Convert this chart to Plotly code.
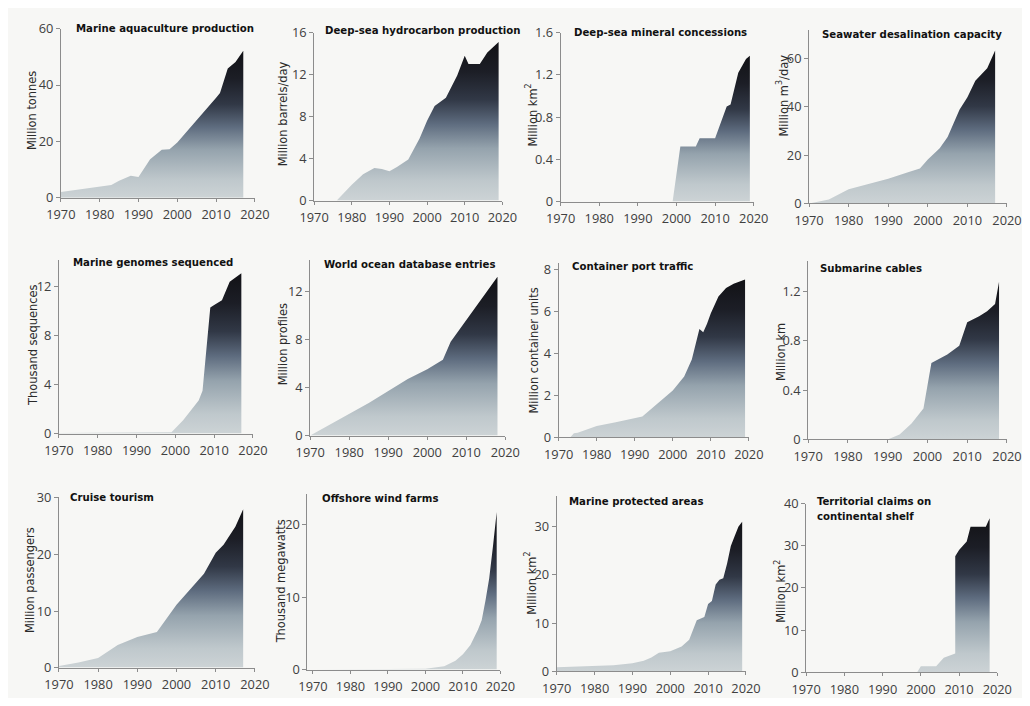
import plotly.graph_objects as go

# ---------------- data ----------------
year_ticks = [1970, 1980, 1990, 2000, 2010, 2020]

aqua_years = [1970, 1975, 1980, 1983, 1985, 1988, 1990, 1993, 1996, 1998, 2000, 2005, 2010, 2011, 2013, 2015, 2017]
aqua_vals = [2.0, 3.0, 3.8, 4.5, 6.0, 7.8, 7.3, 13.6, 17.0, 17.2, 19.6, 27.4, 35.5, 37.2, 45.9, 48.2, 52.2]

hydro_years = [1970, 1976, 1980, 1983, 1986, 1988, 1990, 1992, 1995, 1998, 2000, 2002, 2005, 2008, 2010, 2011, 2014, 2016, 2019]
hydro_vals = [0, 0, 1.5, 2.5, 3.1, 3.0, 2.8, 3.2, 3.9, 5.9, 7.6, 9.0, 9.8, 11.9, 13.8, 13.0, 13.0, 14.1, 15.1]

mineral_years = [1999, 2001, 2005, 2006, 2010, 2012, 2013, 2014, 2016, 2018, 2019]
mineral_vals = [0, 0.52, 0.52, 0.6, 0.6, 0.8, 0.9, 0.92, 1.22, 1.35, 1.38]

desal_years = [1970, 1975, 1980, 1985, 1990, 1995, 1998, 2000, 2003, 2005, 2008, 2010, 2012, 2015, 2017]
desal_vals = [0, 1.6, 5.9, 8.2, 10.2, 12.9, 14.5, 18.2, 22.9, 27.5, 38.8, 44.0, 50.8, 56.0, 63.4]

genome_years = [1970, 1999, 2002, 2004, 2006, 2007, 2008, 2009, 2010, 2012, 2014, 2017]
genome_vals = [0.05, 0.1, 1.1, 1.9, 2.7, 3.5, 7.2, 10.3, 10.5, 10.9, 12.4, 13.1]

wod_years = [1970, 1975, 1980, 1985, 1990, 1995, 2000, 2004, 2006, 2010, 2014, 2018]
wod_vals = [0, 0.9, 1.8, 2.7, 3.7, 4.7, 5.5, 6.3, 7.8, 9.6, 11.4, 13.2]

port_years = [1973, 1974, 1975, 1980, 1985, 1990, 1992, 1995, 2000, 2003, 2005, 2007, 2008, 2009, 2010, 2012, 2014, 2016, 2019]
port_vals = [0, 0.2, 0.23, 0.54, 0.72, 0.92, 1.0, 1.46, 2.23, 2.9, 3.7, 5.15, 5.0, 5.4, 5.9, 6.7, 7.1, 7.3, 7.5]

cable_years = [1990, 1993, 1996, 1999, 2001, 2005, 2008, 2010, 2013, 2015, 2017, 2018]
cable_vals = [0, 0.04, 0.13, 0.25, 0.62, 0.69, 0.76, 0.95, 1.0, 1.04, 1.1, 1.28]

cruise_years = [1970, 1975, 1980, 1985, 1990, 1993, 1995, 2000, 2004, 2007, 2010, 2012, 2015, 2017]
cruise_vals = [0.3, 0.9, 1.7, 4.0, 5.4, 6.0, 6.3, 11.1, 14.3, 16.6, 20.3, 21.7, 24.9, 28.0]

wind_years = [1970, 1995, 2000, 2005, 2008, 2010, 2012, 2014, 2015, 2016, 2017, 2018, 2019]
wind_vals = [0, 0.02, 0.1, 0.45, 1.2, 2.1, 3.4, 5.5, 6.8, 9.5, 12.6, 17.0, 21.8]

mpa_years = [1970, 1980, 1985, 1990, 1993, 1995, 1997, 2000, 2003, 2005, 2006, 2007, 2009, 2010, 2011, 2012, 2013, 2014, 2015, 2016, 2017, 2018, 2019]
mpa_vals = [0.9, 1.1, 1.3, 1.7, 2.2, 2.9, 3.9, 4.2, 5.2, 6.6, 8.6, 10.6, 11.3, 14.0, 14.6, 18.0, 19.0, 19.3, 22.3, 26.0, 28.0, 30.0, 31.0]

shelf_years = [1999, 2000, 2004, 2006, 2009, 2009, 2010, 2012, 2013, 2017, 2018]
shelf_vals = [0, 1.5, 1.5, 3.5, 4.5, 27.5, 29.0, 31.0, 34.5, 34.5, 36.5]

titles = ["Marine aquaculture production", "Deep-sea hydrocarbon production",
          "Deep-sea mineral concessions", "Seawater desalination capacity",
          "Marine genomes sequenced", "World ocean database entries",
          "Container port traffic", "Submarine cables",
          "Cruise tourism", "Offshore wind farms",
          "Marine protected areas", "Territorial claims on<br>continental shelf"]
units = ["Million tonnes", "Million barrels/day", "Million km<sup>2</sup>", "Million m<sup>3</sup>/day",
         "Thousand sequences", "Million profiles", "Million container units", "Million km",
         "Million passengers", "Thousand megawatts", "Million km<sup>2</sup>", "Million km<sup>2</sup>"]
y_ticks = [[0, 20, 40, 60], [0, 4, 8, 12, 16], [0, 0.4, 0.8, 1.2, 1.6], [0, 20, 40, 60],
           [0, 4, 8, 12], [0, 4, 8, 12], [0, 2, 4, 6, 8], [0, 0.4, 0.8, 1.2],
           [0, 10, 20, 30], [0, 10, 20], [0, 10, 20, 30], [0, 10, 20, 30, 40]]
series = [(aqua_years, aqua_vals), (hydro_years, hydro_vals), (mineral_years, mineral_vals),
          (desal_years, desal_vals), (genome_years, genome_vals), (wod_years, wod_vals),
          (port_years, port_vals), (cable_years, cable_vals), (cruise_years, cruise_vals),
          (wind_years, wind_vals), (mpa_years, mpa_vals), (shelf_years, shelf_vals)]

# ---------------- layout geometry (page pixels) ----------------
# The page body keeps its default 8px margin, so the figure is sized to fill
# the 1030x706 window and page pixels are converted with that offset.
PAGE_W, PAGE_H, OFF = 1030, 706, 8
W, H = PAGE_W - 2 * OFF, PAGE_H - 2 * OFF


def px(x):
    return min(max((x - OFF) / W, 0.0), 1.0)


def py(y):
    return min(max(1 - (y - OFF) / H, 0.0), 1.0)


# left, right, bottom(zero), top, ymax, xmin
frames = [(47, 247, 193, 19, 60, 1970), (308, 502, 196, 23, 16, 1970), (562, 761, 197, 23, 1.6, 1970),
          (818, 1022, 199, 20, 72, 1970), (45, 245, 436, 257, 14.2, 1970), (304, 505, 438, 257, 14.6, 1970),
          (560, 756, 440, 260, 8.3, 1970), (817, 1022, 442, 258, 1.45, 1970), (45, 247, 677, 501, 30.2, 1970),
          (301, 500, 679, 498, 24.3, 1968.5), (558, 753, 681, 500, 36.4, 1970), (815, 1012, 682, 508, 40, 1970)]
title_pos = [(61, 19), (317, 21), (574, 23), (829, 25), (57, 260), (316, 262),
             (572, 264), (827, 266), (54, 502), (314, 503), (569, 506), (824, 514)]
unit_pos = [(17, 103), (275, 107), (532, 108), (790, 88), (17, 345), (275, 344),
            (534, 350), (788, 352), (14, 587), (273, 588), (531, 590), (788, 598)]

grad = [[0.0, "#d0d6d8"], [0.15, "#bfc8cc"], [0.35, "#95a3ad"], [0.5, "#5e6c7f"],
        [0.65, "#313846"], [0.82, "#1c1e26"], [1.0, "#121216"]]
TICKFONT = dict(family="Open Sans, DejaVu Sans, sans-serif", size=12.8, color="#404040")
NARROW = "DejaVu Sans Condensed, Liberation Sans Narrow, Roboto, sans-serif"
AXC = "#8c8c8c"

fig = go.Figure()
annotations = []
for i, ((xs, ys), fr) in enumerate(zip(series, frames), start=1):
    left, right, bottom, top, ymax, xmin = fr
    fig.add_trace(go.Scatter(
        x=xs, y=ys, xaxis=f"x{i}", yaxis=f"y{i}", mode="lines",
        line=dict(width=0, color="#121216"), fill="tozeroy",
        fillgradient=dict(type="vertical", colorscale=grad, start=0, stop=max(ys)),
        hoverinfo="skip", showlegend=False))
    sfx = "" if i == 1 else str(i)
    yt = y_ticks[i - 1]
    fig.layout[f"xaxis{sfx}"] = dict(
        domain=[px(left), px(right)], range=[xmin, 2020], anchor=f"y{i}",
        tickvals=year_ticks, ticktext=[str(t) for t in year_ticks],
        showgrid=False, zeroline=False, showline=True, linecolor=AXC, linewidth=1,
        ticks="outside", ticklen=3, tickcolor=AXC, tickfont=TICKFONT, ticklabelstandoff=2,
        fixedrange=True)
    fig.layout[f"yaxis{sfx}"] = dict(
        domain=[py(bottom), py(top)], range=[0, ymax], anchor=f"x{i}",
        tickvals=yt, ticktext=[f"{t:g}" for t in yt],
        showgrid=False, zeroline=False, showline=True, linecolor=AXC, linewidth=1,
        ticks="outside", ticklen=4, tickcolor=AXC, tickfont=TICKFONT, fixedrange=True)
    tx, ty = title_pos[i - 1]
    annotations.append(dict(
        text=titles[i - 1], x=px(tx), y=py(ty), xref="paper", yref="paper",
        xanchor="left", yanchor="middle", showarrow=False, align="left",
        font=dict(family=NARROW, size=11.3, color="#111111", weight="bold")))
    ux, uy = unit_pos[i - 1]
    annotations.append(dict(
        text=units[i - 1], x=px(ux), y=py(uy), xref="paper", yref="paper",
        xanchor="center", yanchor="middle", showarrow=False, textangle=-90,
        font=dict(family=NARROW, size=12.7, color="#2a2a2a")))

fig.update_layout(
    width=W, height=H, margin=dict(l=0, r=0, t=0, b=0),
    paper_bgcolor="#f7f7f5", plot_bgcolor="rgba(0,0,0,0)",
    annotations=annotations, showlegend=False)

fig.write_html("out.html", config={"displayModeBar": False})
